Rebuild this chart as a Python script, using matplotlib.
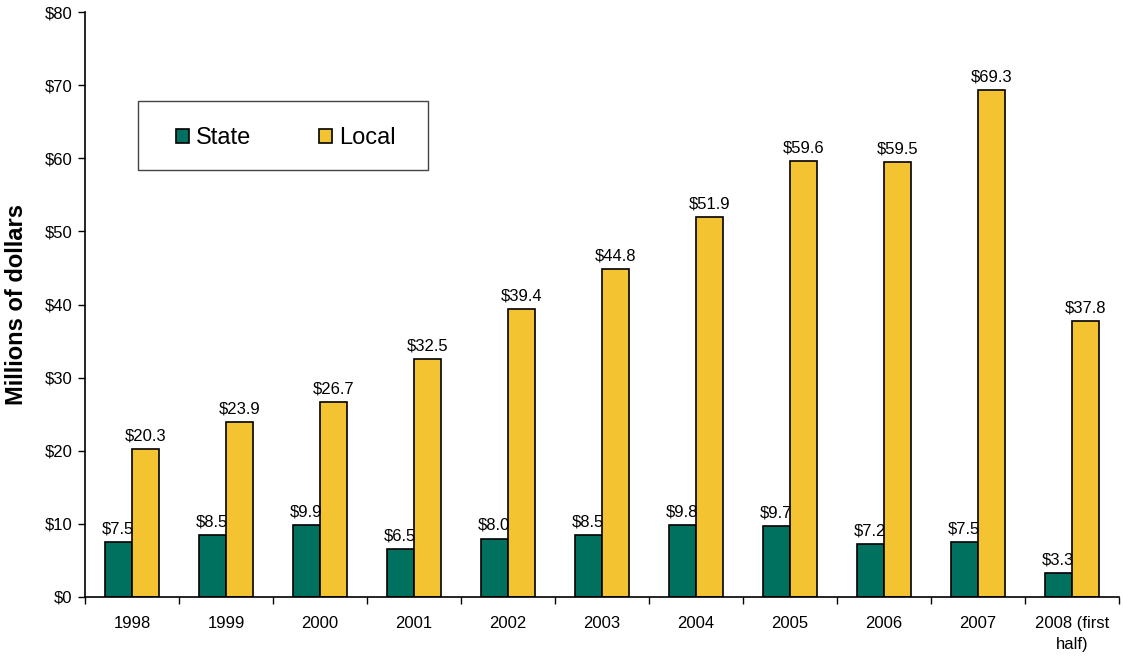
import matplotlib
matplotlib.use("Agg")
import matplotlib.pyplot as plt
from matplotlib.patches import Rectangle
import numpy as np

years = ["1998", "1999", "2000", "2001", "2002", "2003", "2004", "2005", "2006", "2007", "2008 (first\nhalf)"]
state = [7.5, 8.5, 9.9, 6.5, 8.0, 8.5, 9.8, 9.7, 7.2, 7.5, 3.3]
local = [20.3, 23.9, 26.7, 32.5, 39.4, 44.8, 51.9, 59.6, 59.5, 69.3, 37.8]

plt.rcParams['font.family'] = ['Liberation Sans', 'DejaVu Sans']

W, H = 1123, 656
fig = plt.figure(figsize=(W/100, H/100), dpi=100)
ax = fig.add_axes([85/W, 1 - 597/H, (1119-85)/W, (597-12)/H])

x = np.arange(len(years))
w = 0.29
teal = "#00705F"
gold = "#F3C332"
b1 = ax.bar(x - w/2, state, w, color=teal, edgecolor="black", linewidth=1.2, label="State")
b2 = ax.bar(x + w/2, local, w, color=gold, edgecolor="black", linewidth=1.2, label="Local")

for bars, vals in ((b1, state), (b2, local)):
    for rect, v in zip(bars, vals):
        ax.annotate(f"${v:.1f}", (rect.get_x() + rect.get_width()/2, v),
                    xytext=(0, 4), textcoords="offset points",
                    ha="center", va="bottom", fontsize=12)

ax.set_xlim(-0.5, len(years) - 0.5)
ax.set_ylim(0, 80)
ax.set_yticks(range(0, 81, 10))
ax.set_yticklabels([f"${v}" for v in range(0, 81, 10)], fontsize=12)
ax.set_xticks(x)
ax.set_xticklabels(years, fontsize=12, linespacing=1.45)
ax.tick_params(axis="x", length=0, pad=14)
ax.set_xticks(np.arange(-0.5, len(years)), minor=True)
ax.tick_params(axis="x", which="minor", length=5, width=1, direction="out")
ax.tick_params(axis="y", length=5, width=1, direction="out", pad=4)

for s in ("top", "right"):
    ax.spines[s].set_visible(False)
for s in ("left", "bottom"):
    ax.spines[s].set_linewidth(1.2)

ax.set_ylabel("Millions of dollars", fontsize=17, fontweight="bold", labelpad=12)

# legend frame
fig.patches.append(Rectangle((138/W, 1 - 170/H), (428-138)/W, (170-101)/H,
                             transform=fig.transFigure, fill=False,
                             edgecolor="#444444", linewidth=1))
fs = 17
px = fs * 100/72
leg = fig.legend(handles=[b1, b2], loc="center", bbox_to_anchor=((176+395)/2/W, 1 - 138/H),
                 ncol=2, fontsize=fs, frameon=False,
                 handlelength=13/px, handleheight=13/px, handletextpad=7/px,
                 columnspacing=68/px, borderpad=0, borderaxespad=0)

fig.savefig("out.png", dpi=100)
